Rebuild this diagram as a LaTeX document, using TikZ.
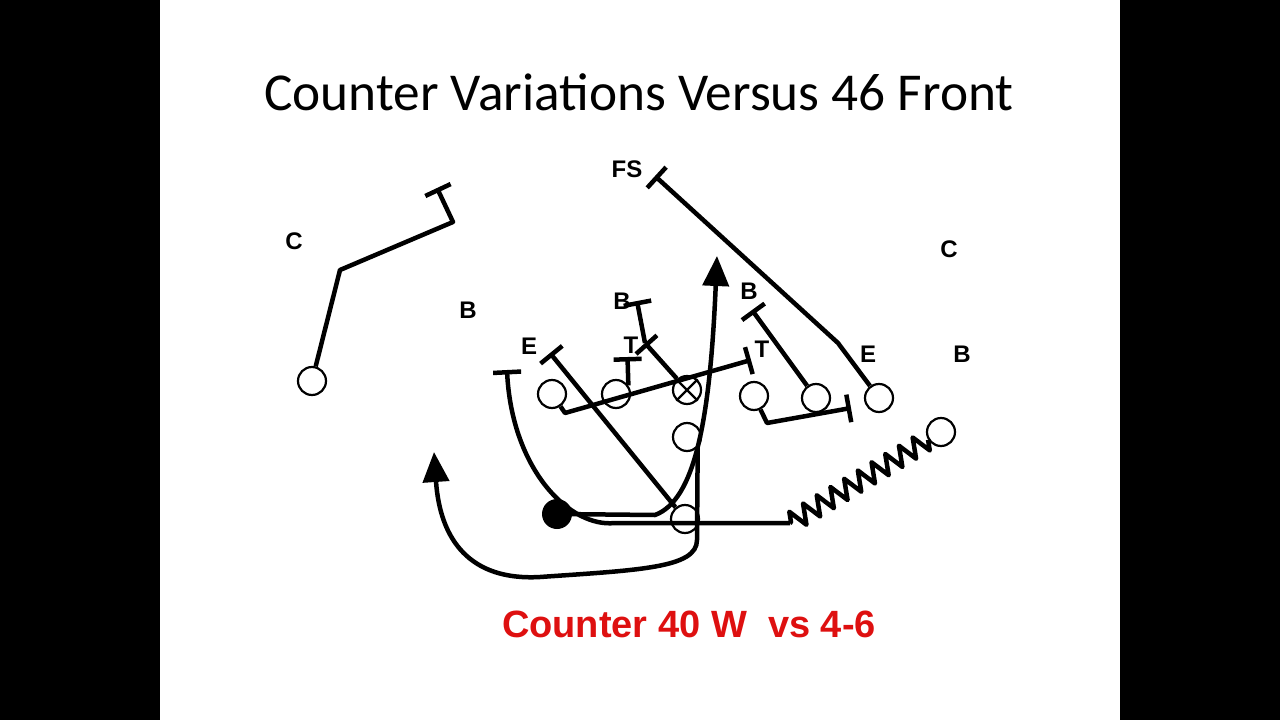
\documentclass[tikz,border=0pt]{standalone}
\usepackage{fontspec}
\setmainfont{Carlito}
\newfontfamily\labelfont{Liberation Sans}
\usetikzlibrary{arrows.meta,positioning,calc,decorations.pathmorphing}

\definecolor{playred}{RGB}{222,16,16}

\begin{document}
\begin{tikzpicture}[x=1pt,y=-1pt,
  player/.style={circle,draw,line width=2.2pt,minimum size=28pt,inner sep=0pt},
  carrier/.style={circle,fill=black,minimum size=30pt,inner sep=0pt},
  defender/.style={font=\labelfont\bfseries\fontsize{24}{24}\selectfont,inner sep=0pt},
  route/.style={line width=4.5pt,line join=round},
  block/.style={route,-{Bar[width=28pt]}},
  run/.style={route,-{Triangle[length=30pt,width=26pt]}}
]
\useasboundingbox (0,0) rectangle (1280,720);
\fill[black] (0,0) rectangle (160,720);
\fill[black] (1120,0) rectangle (1280,720);

% Title
\node[anchor=base,font=\fontsize{53.3}{53.3}\selectfont] (title) at (639,110) {Counter Variations Versus 46 Front};

% Defense
\node[defender] (c1) at (294,241) {C};
\node[defender] (b1) at (468,310) {B};
\node[defender] (fs) at (627,169) {FS};
\node[defender] (c2) at (949,249) {C};
\node[defender] (b2) at (622,301) {B};
\node[defender] (b3) at (749,291) {B};
\node[defender] (e1) at (529,346) {E};
\node[defender] (t1) at (631,345) {T};
\node[defender] (t2) at (762,349) {T};
\node[defender] (e2) at (868,354) {E};
\node[defender] (b4) at (962,354) {B};

% Offense
\node[player] (wr) at (312,381) {};
\node[player] (lt) at (552,394) {};
\node[player] (lg) at (616,394) {};
\node[player] (ctr) at (687,390) {};
\draw[line width=2.2pt] (ctr.45) -- (ctr.225) (ctr.135) -- (ctr.-45);
\node[player] (rg) at (754,396) {};
\node[player] (rt) at (816,398) {};
\node[player] (te) at (879,398) {};
\node[player] (wing) at (941,432) {};
\node[player] (qb) at (687,437) {};
\node[player] (fb) at (685,519) {};

% Blocks
\coordinate (wr1) at (340,270);
\coordinate (wr2) at (453,222);
\coordinate (wr3) at (437,188);
\draw[block] (wr) -- (wr1) -- (wr2) -- (wr3);

\coordinate (fs1) at (838,343);
\coordinate (fs2) at (655,176);
\draw[block] (te) -- (fs1) -- (fs2);

\coordinate (rt1) at (752,310);
\draw[block] (rt) -- (rt1);

\coordinate (rg1) at (767,423);
\coordinate (rg2) at (851,408);
\draw[block] (rg) -- (rg1) -- (rg2);

\coordinate (lt1) at (565,413);
\coordinate (lt2) at (751,360);
\draw[block] (lt) -- (lt1) -- (lt2);

\coordinate (lg1) at (627.5,357);
\draw[block] (lg.35) -- (lg1);

\coordinate (ctr1) at (645,343);
\coordinate (ctr2) at (637,301);
\draw[block] (ctr) -- (ctr1);
\draw[block] (ctr1) -- (ctr2);

\coordinate (fb1) at (550,353);
\draw[block] (fb) -- (fb1);

% Wing motion and kick out
\coordinate (zz) at (790,523);
\coordinate (zz1) at (615,523);
\coordinate (wg1) at (507,370);
\draw[route,decorate,decoration={zigzag,segment length=16pt,amplitude=10pt}] (wing) -- (zz);
\draw[block] (zz) -- (zz1) .. controls (570,528) and (512,470) .. (wg1);

% Ball carrier
\node[carrier] (back) at (557,514) {};
\coordinate (bk1) at (655,515);
\coordinate (bk2) at (717,256);
\draw[run] (back) -- (bk1) .. controls (695,500) and (710,420) .. (bk2);

% Quarterback
\coordinate (qb1) at (697,540);
\coordinate (qb2) at (540,577);
\coordinate (qb3) at (434,452);
\draw[run] (qb.-45) -- (qb1) .. controls (697,568) and (640,570) .. (qb2)
  .. controls (470,581) and (440,540) .. (qb3);

% Play name
\node[anchor=base,text=playred,font=\labelfont\bfseries\fontsize{38}{38}\selectfont] (play) at (689,637) {Counter 40 W\ \ vs 4-6};
\end{tikzpicture}
\end{document}
